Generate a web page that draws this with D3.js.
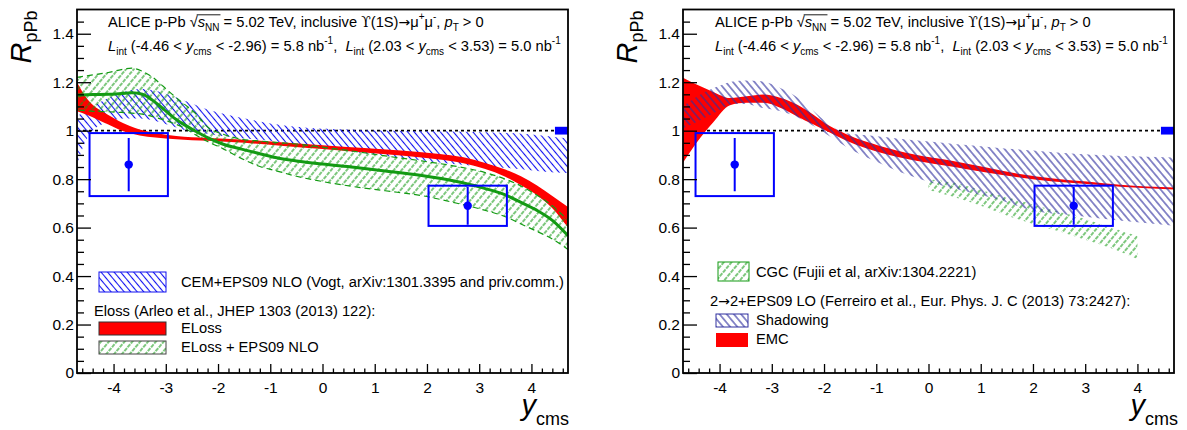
<!DOCTYPE html>
<html><head><meta charset="utf-8">
<script src="https://cdn.jsdelivr.net/npm/d3@7"></script>
<style>
body{margin:0;background:#fff;}
svg{display:block;font-family:"Liberation Sans",Arial,Helvetica,sans-serif;}
text{white-space:pre;}
</style></head><body>
<svg id="c" width="1187" height="430"></svg>
<script>
// ---------------- DATA ----------------
// Measured points (ALICE Upsilon(1S) RpPb)
const pointY      = [-3.71, 2.78];
const pointR      = [0.86, 0.69];
const pointStat   = [0.11, 0.078];
const pointSyst   = [0.13, 0.083];
const binLow      = [-4.46, 2.03];
const binHigh     = [-2.96, 3.53];
const globalUnc   = 0.016;

// Left panel: CEM+EPS09 NLO (Vogt)
const vogtX  = [-4.7,-4.55,-4.4,-4.1,-3.8,-3.5,-3.2,-2.9,-2.6,-2.3,-2.0,-1.6,-1.0,-0.3,0.5,1.3,2.1,2.9,3.6,4.2,4.7];
const vogtHi = [1.06,1.08,1.10,1.135,1.16,1.172,1.165,1.145,1.12,1.095,1.075,1.055,1.03,1.012,1.005,1.0,0.998,0.995,0.99,0.98,0.968];
const vogtLo = [0.86,0.95,1.0,1.035,1.05,1.05,1.04,1.02,1.0,0.99,0.98,0.97,0.958,0.938,0.915,0.893,0.872,0.855,0.845,0.832,0.825];

// Left panel: ELoss (Arleo)
const elossX  = [-4.7,-4.5,-4.3,-4.1,-3.9,-3.7,-3.5,-3.2,-2.8,-2.2,-1.5,-0.8,0,0.8,1.5,2.2,2.7,3.1,3.5,3.8,4.1,4.4,4.7];
const elossHi = [1.20,1.13,1.09,1.065,1.04,1.02,1.005,0.99,0.978,0.97,0.963,0.952,0.94,0.928,0.918,0.905,0.89,0.868,0.84,0.812,0.775,0.73,0.685];
const elossLo = [1.08,1.065,1.045,1.025,1.005,0.99,0.98,0.972,0.965,0.958,0.95,0.938,0.924,0.91,0.898,0.882,0.866,0.843,0.81,0.775,0.735,0.68,0.60];

// Left panel: ELoss + EPS09 NLO (Arleo)
const elEpsX   = [-4.7,-4.4,-4.1,-3.85,-3.65,-3.45,-3.25,-3.05,-2.85,-2.65,-2.45,-2.2,-1.9,-1.55,-1.2,-0.9,-0.5,0,0.6,1.2,1.9,2.5,3.1,3.5,3.8,4.1,4.4,4.7];
const elEpsMid = [1.147,1.149,1.15,1.153,1.156,1.15,1.125,1.09,1.054,1.025,1.0,0.971,0.944,0.924,0.905,0.889,0.875,0.862,0.849,0.834,0.815,0.793,0.762,0.735,0.704,0.672,0.63,0.567];
const elEpsHi  = [1.22,1.23,1.24,1.252,1.258,1.245,1.22,1.183,1.145,1.11,1.075,1.015,0.985,0.965,0.957,0.952,0.945,0.932,0.915,0.896,0.875,0.855,0.828,0.80,0.772,0.735,0.69,0.63];
const elEpsLo  = [1.085,1.08,1.078,1.075,1.072,1.068,1.058,1.045,1.03,1.012,0.985,0.955,0.925,0.885,0.852,0.835,0.812,0.79,0.769,0.752,0.732,0.704,0.672,0.645,0.615,0.585,0.553,0.51];

// Right panel: CGC (Fujii)
const cgcX  = [0,0.5,1.0,1.5,2.0,2.5,3.0,3.5,4.0];
const cgcHi = [0.80,0.785,0.755,0.725,0.695,0.665,0.635,0.60,0.565];
const cgcLo = [0.755,0.725,0.69,0.65,0.615,0.585,0.55,0.515,0.47];

// Right panel: 2->2 + EPS09 LO shadowing (Ferreiro)
const shadX  = [-4.7,-4.4,-4.0,-3.75,-3.5,-3.2,-2.85,-2.5,-2.2,-1.9,-1.6,-1.25,-0.9,-0.6,-0.15,0.5,1.3,2.0,2.8,3.7,4.7];
const shadHi = [1.10,1.145,1.185,1.203,1.207,1.204,1.177,1.136,1.081,1.026,0.99,0.982,0.975,0.968,0.958,0.945,0.93,0.918,0.905,0.895,0.889];
const shadLo = [1.01,1.04,1.085,1.11,1.11,1.095,1.081,1.054,1.019,0.978,0.937,0.896,0.862,0.834,0.80,0.76,0.718,0.67,0.65,0.628,0.608];

// Right panel: EMC (Ferreiro)
const emcX  = [-4.7,-4.44,-4.12,-3.8,-3.48,-3.16,-2.84,-2.52,-2.21,-1.89,-1.57,-0.93,-0.29,0.47,1.11,1.75,2.39,3.03,3.67,4.7];
const emcHi = [1.218,1.19,1.16,1.135,1.142,1.149,1.136,1.108,1.067,1.019,0.985,0.937,0.903,0.875,0.848,0.821,0.803,0.79,0.777,0.765];
const emcLo = [0.868,0.95,1.035,1.105,1.115,1.115,1.095,1.06,1.026,0.992,0.958,0.91,0.878,0.851,0.827,0.807,0.79,0.78,0.769,0.757];

// Axis ticks
const xTicks = [-4,-3,-2,-1,0,1,2,3,4];
const xTickLabels = ["-4","-3","-2","-1","0","1","2","3","4"];
const yTicks = [0,0.2,0.4,0.6,0.8,1.0,1.2,1.4];
const yTickLabels = ["0","0.2","0.4","0.6","0.8","1","1.2","1.4"];
const xDomain = [-4.7, 4.7];
const yDomain = [0, 1.5];

// Legend texts
const legendLeft = ["CEM+EPS09 NLO (Vogt, arXiv:1301.3395 and priv.comm.)",
                    "Eloss (Arleo et al., JHEP 1303 (2013) 122):", "ELoss", "ELoss + EPS09 NLO"];
const legendRight = ["CGC (Fujii et al, arXiv:1304.2221)",
                     "EPS09 LO (Ferreiro et al., Eur. Phys. J. C (2013) 73:2427):", "Shadowing", "EMC"];

// ---------------- DRAWING ----------------
const svg = d3.select("#c");
const FONT = 14.7;
const SYM = '"DejaVu Sans",sans-serif';
const zip3 = (xs, lo, hi) => xs.map((x,i)=>({x, lo:lo[i], hi:hi[i]}));

const defs = svg.append("defs");
function hatch(id, color, spacing, angle, dash, width){
  const p = defs.append("pattern").attr("id", id).attr("patternUnits","userSpaceOnUse")
    .attr("width", spacing).attr("height", 10).attr("patternTransform", `rotate(${angle})`);
  const l = p.append("line").attr("x1", spacing/2).attr("x2", spacing/2).attr("y1", 0).attr("y2", 10)
    .attr("stroke", color).attr("stroke-width", width);
  if (dash) l.attr("stroke-dasharray", dash);
}
const BLUE_L = "#1010f0", BLUE_R = "#3030a0", GREEN = "#139a13", RED = "#ff0000", PBLUE = "#0000ff";
hatch("hBlueL", BLUE_L, 5, -40, null, 1.1);
hatch("hBlueR", BLUE_R, 5.5, -40, null, 1.1);
hatch("hGreen", GREEN, 6, 40, "4,1", 1.1);

function richText(parent, x, y, segs, size, anchor){
  const t = parent.append("text").attr("x", x).attr("y", y).attr("font-size", size)
     .attr("text-anchor", anchor || "start").attr("fill", "#000");
  const over = [];
  let idx = 0;
  segs.forEach(s => {
    const ts = t.append("tspan").text(s.t);
    if (s.it) ts.attr("font-style", "italic");
    if (s.f) ts.attr("font-family", s.f);
    if (s.fs) ts.attr("font-size", size*s.fs);
    if (s.sub) ts.attr("font-size", size*0.68).attr("baseline-shift", `${-size*0.3}px`);
    if (s.sup) ts.attr("font-size", size*0.68).attr("baseline-shift", `${size*0.45}px`);
    if (s.ov) over.push([idx, idx + s.t.length - 1]);
    idx += s.t.length;
  });
  if (over.length){
    const node = t.node();
    const a = node.getStartPositionOfChar(over[0][0]);
    const b = node.getEndPositionOfChar(over[over.length-1][1]);
    parent.append("line").attr("x1", a.x - 1).attr("x2", b.x + 1)
      .attr("y1", y - size*0.83).attr("y2", y - size*0.83).attr("stroke", "#000").attr("stroke-width", 0.9);
  }
  return t;
}

const panels = [
  {x0: 77, x1: 568, y0: 9.5, y1: 373, id: "L"},
  {x0: 683, x1: 1174, y0: 9.5, y1: 373, id: "R"}
];

panels.forEach(P => {
  const x = d3.scaleLinear().domain(xDomain).range([P.x0, P.x1]);
  const y = d3.scaleLinear().domain(yDomain).range([P.y1, P.y0]);
  const g = svg.append("g");
  defs.append("clipPath").attr("id", "clip"+P.id).append("rect")
     .attr("x", P.x0).attr("y", P.y0).attr("width", P.x1-P.x0).attr("height", P.y1-P.y0);
  const plot = g.append("g").attr("clip-path", `url(#clip${P.id})`);

  const area = d3.area().x(d=>x(d.x)).y0(d=>y(d.lo)).y1(d=>y(d.hi)).curve(d3.curveMonotoneX);
  const line = d3.line().x(d=>x(d.x)).y(d=>y(d.v)).curve(d3.curveMonotoneX);

  // reference line at 1
  plot.append("line").attr("x1", x(xDomain[0])).attr("x2", x(xDomain[1])).attr("y1", y(1)).attr("y2", y(1))
    .attr("stroke", "#000").attr("stroke-width", 1.6).attr("stroke-dasharray", "3,3");

  if (P.id === "L"){
    plot.append("path").datum(zip3(vogtX, vogtLo, vogtHi)).attr("d", area).attr("fill", "url(#hBlueL)");
    plot.append("path").datum(zip3(elossX, elossLo, elossHi)).attr("d", area).attr("fill", RED);
    plot.append("path").datum(zip3(elEpsX, elEpsLo, elEpsHi)).attr("d", area).attr("fill", "url(#hGreen)")
      .attr("stroke", GREEN).attr("stroke-width", 1.2).attr("stroke-dasharray", "6,4");
    plot.append("path").datum(elEpsX.map((v,i)=>({x:v, v:elEpsMid[i]}))).attr("d", line)
      .attr("fill", "none").attr("stroke", GREEN).attr("stroke-width", 3);
  } else {
    plot.append("path").datum(zip3(cgcX, cgcLo, cgcHi)).attr("d", area).attr("fill", "url(#hGreen)");
    plot.append("path").datum(zip3(emcX, emcLo, emcHi)).attr("d", area).attr("fill", RED);
    plot.append("path").datum(zip3(shadX, shadLo, shadHi)).attr("d", area).attr("fill", "url(#hBlueR)");
  }

  // data: systematic boxes, stat bars, markers
  pointY.forEach((py, i) => {
    plot.append("rect").attr("x", x(binLow[i])).attr("width", x(binHigh[i]) - x(binLow[i]))
      .attr("y", y(pointR[i] + pointSyst[i])).attr("height", y(pointR[i] - pointSyst[i]) - y(pointR[i] + pointSyst[i]))
      .attr("fill", "none").attr("stroke", PBLUE).attr("stroke-width", 2);
    plot.append("line").attr("x1", x(py)).attr("x2", x(py))
      .attr("y1", y(pointR[i] + pointStat[i])).attr("y2", y(pointR[i] - pointStat[i]))
      .attr("stroke", PBLUE).attr("stroke-width", 2);
    plot.append("circle").attr("cx", x(py)).attr("cy", y(pointR[i])).attr("r", 4.2).attr("fill", PBLUE);
  });
  // global uncertainty box
  plot.append("rect").attr("x", x(4.45)).attr("width", x(xDomain[1]) - x(4.45))
    .attr("y", y(1 + globalUnc)).attr("height", y(1 - globalUnc) - y(1 + globalUnc)).attr("fill", PBLUE);

  // axes
  const xMinor = d3.range(-4.6, 4.61, 0.2).filter(v => Math.abs(v - Math.round(v)) > 0.05);
  const yMinor = d3.range(0.05, 1.5, 0.05).filter(v => Math.abs(v*5 - Math.round(v*5)) > 0.01);
  const ax = g.append("g").attr("transform", `translate(0,${P.y1})`)
    .call(d3.axisBottom(x).tickValues(xTicks).tickSize(-9).tickPadding(9).tickFormat((d,i)=>xTickLabels[i]));
  const axm = g.append("g").attr("transform", `translate(0,${P.y1})`)
    .call(d3.axisBottom(x).tickValues(xMinor).tickSize(-4.5).tickFormat(""));
  const ay = g.append("g").attr("transform", `translate(${P.x0},0)`)
    .call(d3.axisLeft(y).tickValues(yTicks).tickSize(-14).tickPadding(3).tickFormat((d,i)=>yTickLabels[i]));
  const aym = g.append("g").attr("transform", `translate(${P.x0},0)`)
    .call(d3.axisLeft(y).tickValues(yMinor).tickSize(-7).tickFormat(""));
  [ax, axm, ay, aym].forEach(a => {
    a.select(".domain").remove();
    a.selectAll("line").attr("stroke", "#000").attr("stroke-width", 1.3);
    a.selectAll("text").attr("font-size", 15.5).attr("fill", "#000")
      .attr("font-family", '"Liberation Sans",Arial,sans-serif');
  });
  ax.selectAll("text").attr("dy", "0.71em");

  // frame
  g.append("rect").attr("x", P.x0).attr("y", P.y0).attr("width", P.x1-P.x0).attr("height", P.y1-P.y0)
    .attr("fill", "none").attr("stroke", "#000").attr("stroke-width", 1.8);

  // axis titles
  const yt = g.append("text").attr("transform", `translate(${P.x0 - 46},${P.y0 + 1}) rotate(-90)`)
    .attr("text-anchor", "end").attr("font-size", 29);
  yt.append("tspan").text("R").attr("font-style", "italic");
  yt.append("tspan").text("pPb").attr("font-size", 18).attr("baseline-shift", "-6px");
  const xt = g.append("text").attr("x", P.x1 + (P.id === "R" ? 4 : 1)).attr("y", 415)
    .attr("text-anchor", "end").attr("font-size", 29);
  xt.append("tspan").text("y").attr("font-style", "italic");
  xt.append("tspan").text("cms").attr("font-size", 18).attr("baseline-shift", "-10px");

  // header text
  const hx = P.x0 + 31 + (P.id === "R" ? 1 : 0);
  richText(g, hx, 27, [{t:"ALICE p-Pb "},{t:"\u221A"},{t:"s",it:1,ov:1},{t:"NN",sub:1,ov:1},
    {t:" = 5.02 TeV, inclusive "},{t:"\u03D2",f:'"DejaVu Serif",serif',fs:0.95},{t:"(1S)"},
    {t:"\u2192",f:SYM,fs:0.95},{t:"\u03BC"},{t:"+",sup:1},{t:"\u03BC"},{t:"-",sup:1},{t:", "},
    {t:"p",it:1},{t:"T",sub:1},{t:" > 0"}], FONT);
  richText(g, hx, 51, [{t:"L",it:1},{t:"int",sub:1},{t:" (-4.46 < "},{t:"y",it:1},{t:"cms",sub:1},
    {t:" < -2.96) = 5.8 nb"},{t:"-1",sup:1},{t:",  "},{t:"L",it:1},{t:"int",sub:1},{t:" (2.03 < "},
    {t:"y",it:1},{t:"cms",sub:1},{t:" < 3.53) = 5.0 nb"},{t:"-1",sup:1}], FONT);

  // legends
  const lg = g.append("g");
  if (P.id === "L"){
    lg.append("rect").attr("x", 99).attr("y", 272).attr("width", 67).attr("height", 20)
      .attr("fill", "url(#hBlueL)").attr("stroke", BLUE_L).attr("stroke-width", 1);
    lg.append("text").attr("x", 181).attr("y", 287).attr("font-size", FONT).text(legendLeft[0]);
    lg.append("text").attr("x", 94).attr("y", 316).attr("font-size", FONT).text(legendLeft[1]);
    lg.append("rect").attr("x", 99).attr("y", 322).attr("width", 67).attr("height", 13)
      .attr("fill", RED).attr("stroke", "#333").attr("stroke-width", 1);
    lg.append("text").attr("x", 181).attr("y", 333).attr("font-size", FONT).text(legendLeft[2]);
    lg.append("rect").attr("x", 99).attr("y", 341).attr("width", 67).attr("height", 13)
      .attr("fill", "url(#hGreen)").attr("stroke", "#444").attr("stroke-width", 1);
    lg.append("text").attr("x", 181).attr("y", 352).attr("font-size", FONT).text(legendLeft[3]);
  } else {
    lg.append("rect").attr("x", 718).attr("y", 262).attr("width", 31).attr("height", 19)
      .attr("fill", "url(#hGreen)").attr("stroke", GREEN).attr("stroke-width", 1);
    lg.append("text").attr("x", 756).attr("y", 277).attr("font-size", FONT).text(legendRight[0]);
    richText(lg, 710, 306, [{t:"2"},{t:"\u2192",f:SYM,fs:0.95},{t:"2+" + legendRight[1]}], FONT);
    lg.append("rect").attr("x", 716).attr("y", 314).attr("width", 32).attr("height", 13)
      .attr("fill", "url(#hBlueR)").attr("stroke", BLUE_R).attr("stroke-width", 1);
    lg.append("text").attr("x", 756).attr("y", 325).attr("font-size", FONT).text(legendRight[2]);
    lg.append("rect").attr("x", 716).attr("y", 333).attr("width", 32).attr("height", 14)
      .attr("fill", RED);
    lg.append("text").attr("x", 756).attr("y", 344).attr("font-size", FONT).text(legendRight[3]);
  }
});
</script>
</body></html>
